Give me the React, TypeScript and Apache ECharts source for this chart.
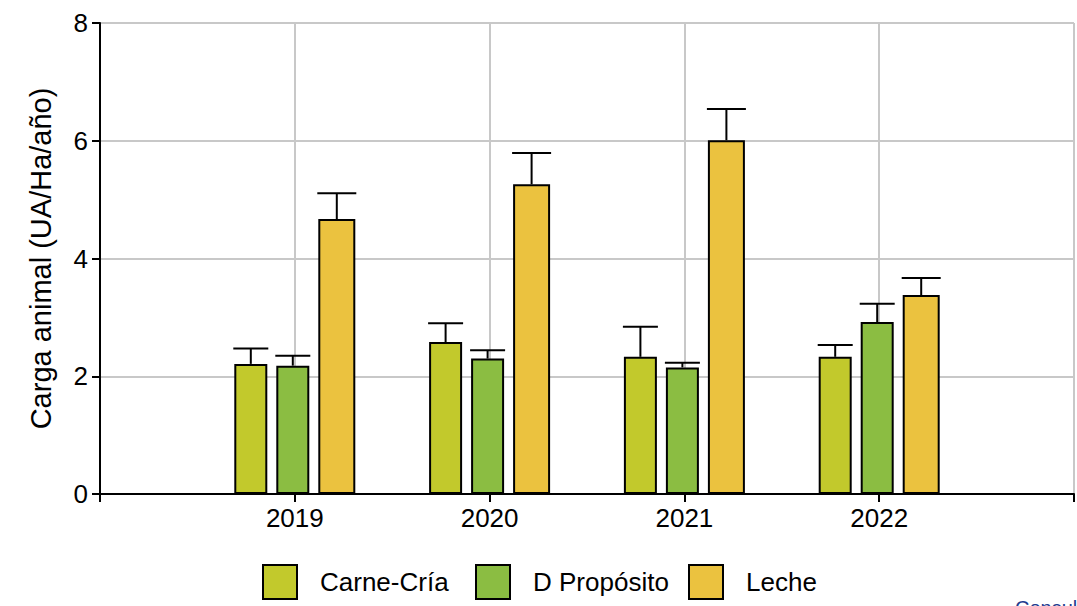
import React, { useEffect, useRef } from "react";
import * as echarts from "echarts";

const categories = ["", "2019", "2020", "2021", "2022", ""];
const seriesNames = ["Carne-Cría", "D Propósito", "Leche"];
const carneMean = [null, 2.21, 2.58, 2.33, 2.33, null];
const carneUpper = [null, 2.47, 2.90, 2.84, 2.53, null];
const dpMean = [null, 2.18, 2.30, 2.15, 2.92, null];
const dpUpper = [null, 2.35, 2.44, 2.23, 3.23, null];
const lecheMean = [null, 4.67, 5.26, 6.01, 3.38, null];
const lecheUpper = [null, 5.11, 5.79, 6.54, 3.67, null];
const yTicks = { min: 0, max: 8, interval: 2 };
const colors = ["#c2c92c", "#8bbd42", "#ebc23f"];

const FONT = "'Liberation Sans', Arial, sans-serif";

export default function App() {
  const ref = useRef<HTMLDivElement>(null);
  useEffect(() => {
    document.body.style.margin = "0";
    if (!ref.current) return;
    const chart = echarts.init(ref.current, null, { renderer: "svg" });

    const widths = [33, 33, 37];
    const gap = 9;
    const total = widths.reduce((a, b) => a + b, 0) + gap * 2;
    const offsets: number[] = [];
    let acc = -total / 2;
    widths.forEach((w) => {
      offsets.push(acc + w / 2);
      acc += w + gap;
    });

    const means = [carneMean, dpMean, lecheMean];
    const uppers = [carneUpper, dpUpper, lecheUpper];

    const barSeries = seriesNames.map((name, i) => ({
      name,
      type: "bar",
      barWidth: widths[i],
      barGap: (gap / 33) * 100 + "%",
      data: means[i].map((v) => (v == null ? "-" : v)),
      itemStyle: { color: colors[i], borderColor: "#000", borderWidth: 2 },
      z: 2,
    }));

    const errSeries = seriesNames.map((name, i) => ({
      name: name + "-err",
      type: "custom",
      z: 3,
      data: means[i]
        .map((v, k) => (v == null ? null : [k, v, uppers[i][k]]))
        .filter((d) => d != null),
      encode: { x: 0, y: [1, 2] },
      renderItem: (params: any, api: any) => {
        const c = api.value(0);
        const p0 = api.coord([c, api.value(1)]);
        const p1 = api.coord([c, api.value(2)]);
        const x = p0[0] + offsets[i];
        const hw = widths[i] / 2 + 1;
        const style = { stroke: "#000", lineWidth: 2 };
        return {
          type: "group",
          children: [
            { type: "line", shape: { x1: x, y1: p0[1], x2: x, y2: p1[1] }, style },
            { type: "line", shape: { x1: x - hw, y1: p1[1], x2: x + hw, y2: p1[1] }, style },
          ],
        };
      },
    }));

    const legendLefts = [262, 475, 688];
    const legends = seriesNames.map((name, i) => ({
      data: [name],
      left: legendLefts[i],
      top: 564,
      padding: 0,
      itemWidth: 34,
      itemHeight: 34,
      icon: "rect",
      itemStyle: { borderColor: "#000", borderWidth: 2 },
      textStyle: { fontFamily: FONT, fontSize: 26, color: "#000", padding: [0, 0, 0, 18] },
      selectedMode: false,
    }));

    chart.setOption({
      animation: false,
      textStyle: { fontFamily: FONT },
      grid: { left: 100, right: 2, top: 23, bottom: 112, containLabel: false },
      legend: legends,
      xAxis: {
        type: "category",
        data: categories,
        boundaryGap: false,
        axisLine: { lineStyle: { color: "#000", width: 2 } },
        axisTick: { show: true, length: 8, lineStyle: { color: "#000", width: 2 } },
        axisLabel: { color: "#000", fontSize: 26, fontFamily: FONT, margin: 11, interval: 0 },
        splitLine: { show: true, lineStyle: { color: "#c8c8c8", width: 2 } },
      },
      yAxis: {
        type: "value",
        min: yTicks.min,
        max: yTicks.max,
        interval: yTicks.interval,
        name: "Carga animal (UA/Ha/año)",
        nameLocation: "middle",
        nameGap: 45,
        nameTextStyle: { color: "#000", fontSize: 29, fontFamily: FONT },
        axisLine: { show: true, lineStyle: { color: "#000", width: 2 } },
        axisTick: { show: true, length: 8, lineStyle: { color: "#000", width: 2 } },
        axisLabel: { color: "#000", fontSize: 26, fontFamily: FONT, margin: 12 },
        splitLine: { show: true, lineStyle: { color: "#c8c8c8", width: 2 } },
      },
      graphic: [
        {
          type: "text",
          left: 1015,
          top: 598,
          style: { text: "Consulta", fill: "#1f3c8f", font: "20px " + FONT },
        },
      ],
      series: [...barSeries, ...errSeries],
    });
    return () => chart.dispose();
  }, []);
  return <div ref={ref} style={{ width: 1077, height: 606 }} />;
}
